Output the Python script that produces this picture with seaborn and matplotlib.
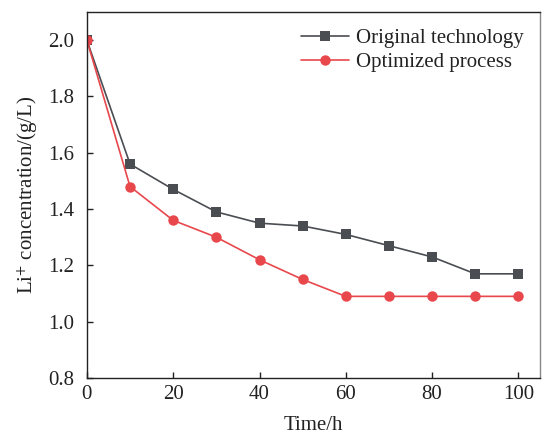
import numpy as np
import pandas as pd
import matplotlib
matplotlib.use("Agg")
import matplotlib.pyplot as plt
import seaborn as sns

time_h = [0, 10, 20, 30, 40, 50, 60, 70, 80, 90, 100]
original = [2.0, 1.56, 1.47, 1.39, 1.35, 1.34, 1.31, 1.27, 1.23, 1.17, 1.17]
optimized = [2.0, 1.48, 1.36, 1.30, 1.22, 1.15, 1.09, 1.09, 1.09, 1.09, 1.09]
series_names = ["Original technology", "Optimized process"]

df = pd.DataFrame({
    "Time": time_h * 2,
    "Conc": original + optimized,
    "Series": [series_names[0]] * len(time_h) + [series_names[1]] * len(time_h),
})

sns.set_style("ticks")
plt.rcParams["font.family"] = ["Liberation Serif", "DejaVu Serif"]
plt.rcParams["mathtext.fontset"] = "stix"

fig = plt.figure(figsize=(5.43, 4.37), dpi=100)
ax = fig.add_axes([0.160, 0.135, 0.8345, 0.8375])

palette = {series_names[0]: "#4a4d52", series_names[1]: "#e8474c"}
markers = {series_names[0]: "s", series_names[1]: "o"}
sizes = {series_names[0]: 6.5, series_names[1]: 7.5}

for name in series_names:
    sub = df[df["Series"] == name]
    sns.lineplot(data=sub, x="Time", y="Conc", ax=ax, color=palette[name],
                 marker=markers[name], markersize=sizes[name],
                 markeredgewidth=0, linewidth=1.2, label=name)

ax.set_xlim(0, 105)
ax.set_ylim(0.8, 2.1)
ax.set_xticks([0, 20, 40, 60, 80, 100])
ax.set_yticks([0.8, 1.0, 1.2, 1.4, 1.6, 1.8, 2.0])
ax.yaxis.set_major_formatter(matplotlib.ticker.FormatStrFormatter("%.1f"))
ax.tick_params(direction="in", length=4, width=1, labelsize=15, colors="#222222",
               top=False, right=False)
ax.tick_params(axis="y", pad=9)
ax.tick_params(axis="x", pad=5)
for s in ["left", "bottom", "top"]:
    ax.spines[s].set_color("#222222")
    ax.spines[s].set_linewidth(1.0)
ax.spines["right"].set_color("#888888")
ax.spines["right"].set_linewidth(1.0)

ax.set_xlabel("Time/h", fontsize=15, color="#222222", labelpad=8.5)
ax.set_ylabel("Li$^{+}$ concentration/(g/L)", fontsize=15, color="#222222", labelpad=6)

leg = ax.legend(loc="upper right", frameon=False, fontsize=15, handlelength=2.3,
                handletextpad=0.3, labelspacing=0.2, borderaxespad=0.4)
for t in leg.get_texts():
    t.set_color("#222222")

fig.savefig("out.png", dpi=100)
